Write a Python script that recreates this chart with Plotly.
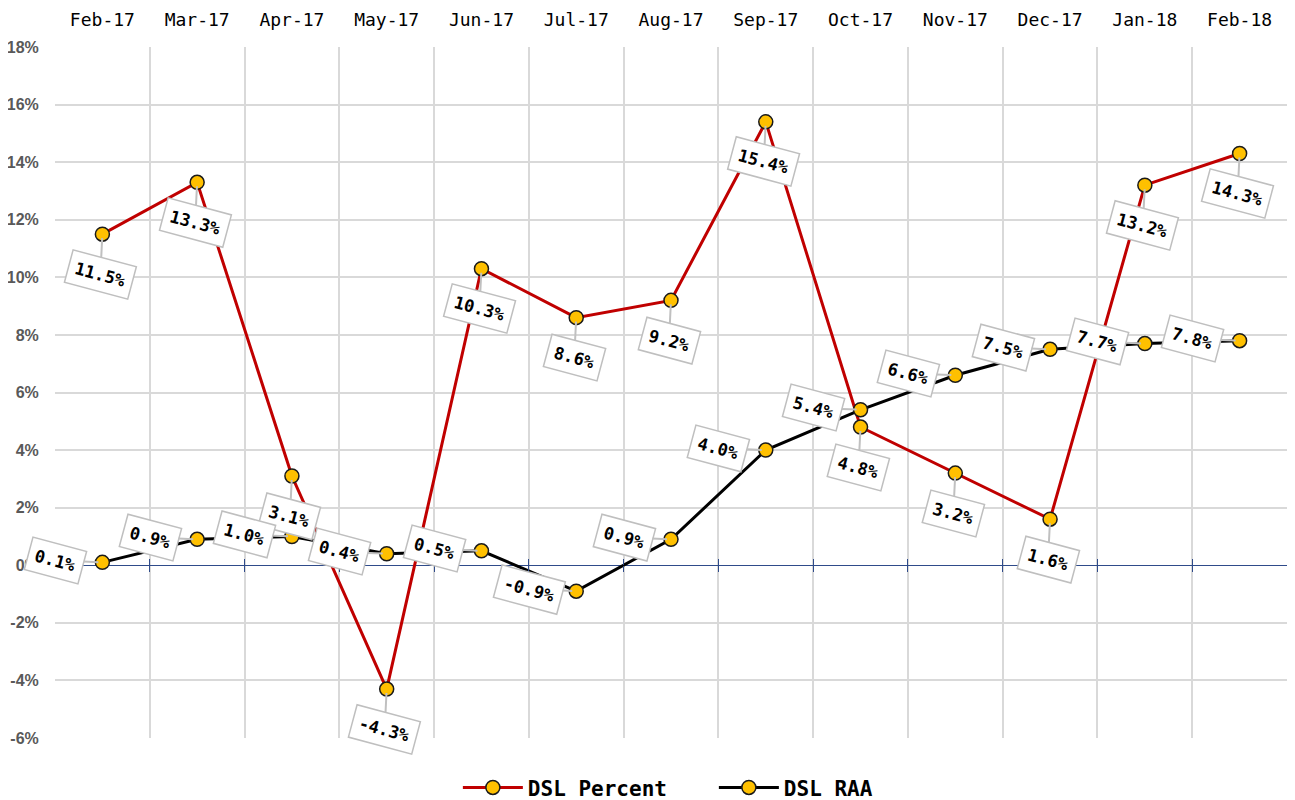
import plotly.graph_objects as go

months = ["Feb-17", "Mar-17", "Apr-17", "May-17", "Jun-17", "Jul-17", "Aug-17",
          "Sep-17", "Oct-17", "Nov-17", "Dec-17", "Jan-18", "Feb-18"]
dsl_percent = [11.5, 13.3, 3.1, -4.3, 10.3, 8.6, 9.2, 15.4, 4.8, 3.2, 1.6, 13.2, 14.3]
dsl_raa = [0.1, 0.9, 1.0, 0.4, 0.5, -0.9, 0.9, 4.0, 5.4, 6.6, 7.5, 7.7, 7.8]
y_ticks = list(range(-6, 19, 2))
y_ticktext = [f"{v}%" for v in y_ticks]

MONO = "DejaVu Sans Mono"
marker = dict(size=14, color="#FFC000", line=dict(color="#1a1a1a", width=1.5))

fig = go.Figure()
fig.add_trace(go.Scatter(x=months, y=dsl_percent, name="DSL Percent", mode="lines+markers",
                         line=dict(color="#C00000", width=3), marker=marker))
fig.add_trace(go.Scatter(x=months, y=dsl_raa, name="DSL RAA", mode="lines+markers",
                         line=dict(color="#000000", width=3), marker=marker))
# invisible helper traces for zero-line tick marks
for ax in ["x2", "x3"]:
    fig.add_trace(go.Scatter(x=months, y=dsl_raa, xaxis=ax, yaxis="y", mode="markers",
                             marker=dict(opacity=0), showlegend=False, hoverinfo="skip"))

annotations = []
def lab(x, y, ax, ay):
    return dict(x=x, y=y, xref="x", yref="y", text=f"{y:.1f}%", showarrow=True,
                ax=ax, ay=ay, arrowhead=0, arrowwidth=2, arrowcolor="#c0c0c0",
                standoff=4, textangle=15, bgcolor="white", bordercolor="#bfbfbf",
                borderwidth=1.5, borderpad=6,
                font=dict(family=MONO, size=17, color="black", weight="bold"))

for m, v in zip(months, dsl_percent):
    annotations.append(lab(m, v, -2, 40))
for m, v in zip(months, dsl_raa):
    annotations.append(lab(m, v, -47, -2))

yr = [-6, 18]
zero_pos = (0 - yr[0]) / (yr[1] - yr[0])

fig.update_layout(
    width=1287, height=792,
    margin=dict(l=47, r=8, t=39, b=62, autoexpand=False),
    plot_bgcolor="white", paper_bgcolor="white",
    xaxis=dict(type="category", side="top", tickson="boundaries", showgrid=True,
               gridcolor="#d9d9d9", gridwidth=1.5, ticks="", ticklabelstandoff=16,
               showline=False, automargin=False,
               range=[-0.5, 12.5],
               tickfont=dict(family=MONO, size=18, color="black", weight="normal")),
    xaxis2=dict(type="category", overlaying="x", anchor="free", position=zero_pos,
                side="bottom", tickson="boundaries", ticks="outside", ticklen=6,
                tickcolor="#2F4B8A", tickwidth=1.2, showticklabels=False, automargin=False,
                showgrid=False, showline=False, range=[-0.5, 12.5]),
    xaxis3=dict(type="category", overlaying="x", anchor="free", position=zero_pos,
                side="top", tickson="boundaries", ticks="outside", ticklen=6,
                tickcolor="#2F4B8A", tickwidth=1.2, showticklabels=False, automargin=False,
                showgrid=False, showline=False, range=[-0.5, 12.5]),
    yaxis=dict(range=yr, tickvals=y_ticks, ticktext=y_ticktext, showgrid=True,
               gridcolor="#d9d9d9", gridwidth=1.5, zeroline=True,
               zerolinecolor="#2F4B8A", zerolinewidth=1.2, automargin=False,
               ticks="outside", ticklen=12, tickcolor="rgba(0,0,0,0)",
               tickfont=dict(family="Liberation Sans", size=16, color="#595959", weight="bold")),
    legend=dict(orientation="h", x=0.327, xanchor="left", y=-0.072, yanchor="middle",
                font=dict(family=MONO, size=21, color="black", weight="bold"),
                itemwidth=60, entrywidth=181, entrywidthmode="pixels"),
    annotations=annotations,
    showlegend=True,
)

fig.write_html("out.html")
